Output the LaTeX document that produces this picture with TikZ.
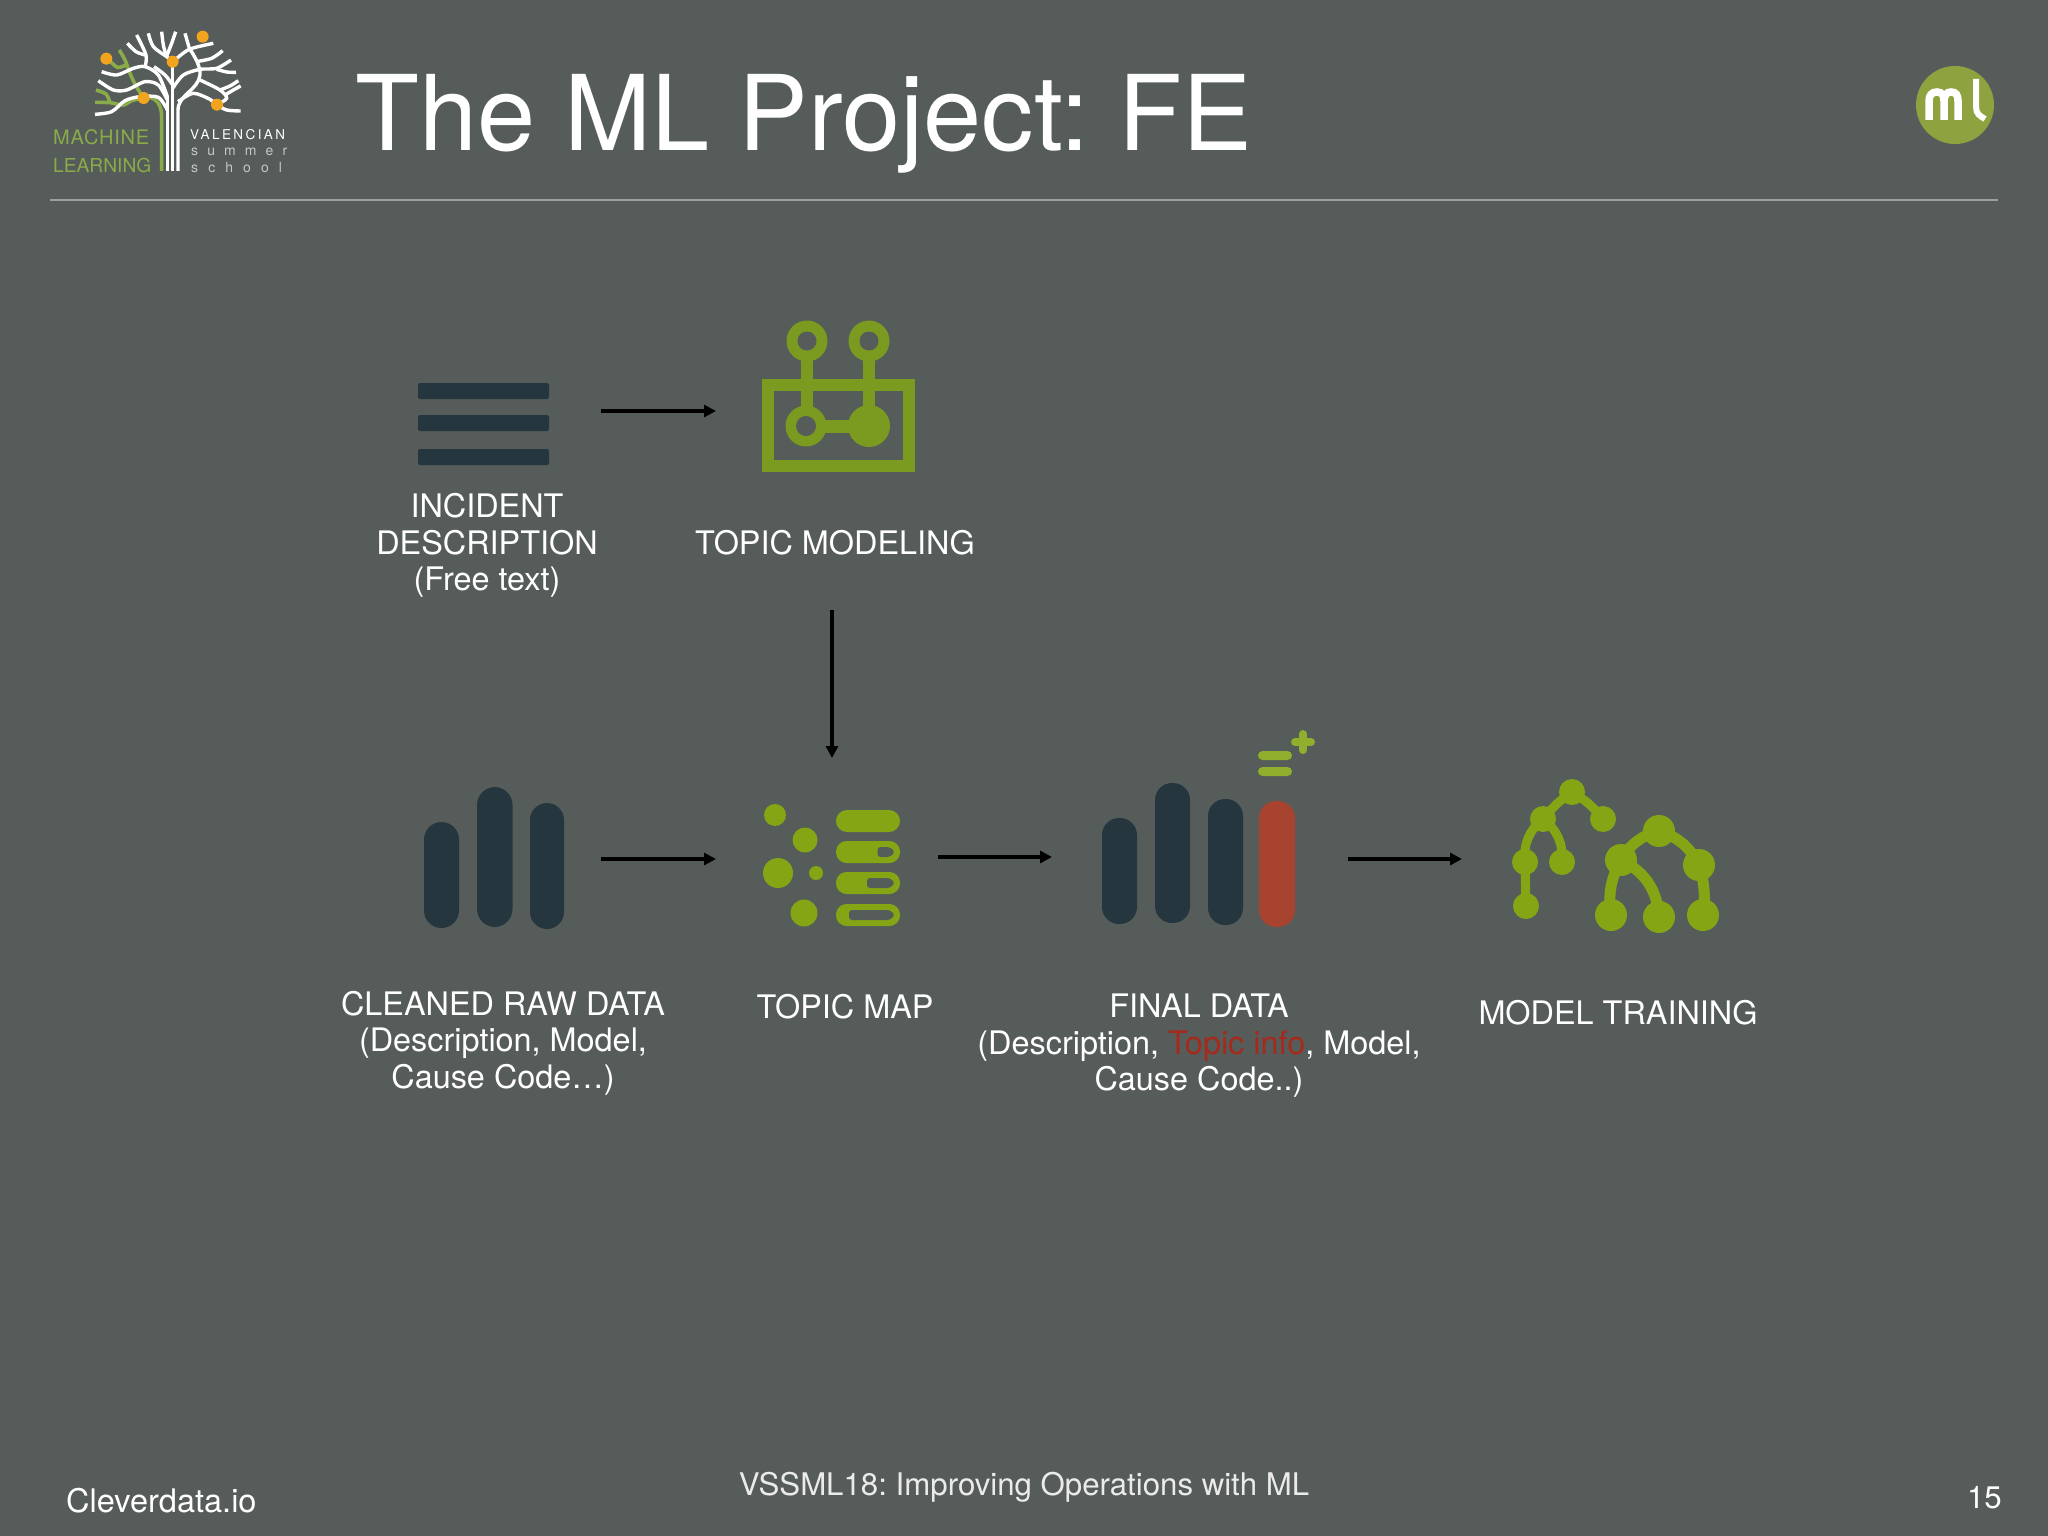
\documentclass[tikz,border=0pt]{standalone}
\usepackage{fontspec}
\setmainfont{TeX Gyre Heros}
\usetikzlibrary{arrows.meta}
\frenchspacing
\definecolor{bgc}{HTML}{565C5A}
\definecolor{navy}{HTML}{25363F}
\definecolor{olive}{HTML}{7B9A20}
\definecolor{lime}{HTML}{85A514}
\definecolor{redbar}{HTML}{A7432F}
\definecolor{redtxt}{HTML}{A52A1C}
\definecolor{logogreen}{HTML}{8AAB4A}
\definecolor{logoorange}{HTML}{F2A41F}
\definecolor{mlgreen}{HTML}{8EA340}
\tikzset{
  x=1pt,y=-1pt,
  lab/.style={inner sep=0pt,align=center,text=white,font=\fontsize{32.4}{36.5}\selectfont},
  foot/.style={inner sep=0pt,text=white!92!black,font=\fontsize{31.2}{36}\selectfont},
  flow/.style={line width=3.5pt,black,-{Triangle[length=12pt,width=12pt]}},
  treew/.style={draw=white,line width=3.4pt},
  treeg/.style={draw=logogreen,line width=3.6pt},
  logot/.style={inner sep=0pt,anchor=base west},
  edge1/.style={draw=lime,line width=9pt},
  edge2/.style={draw=lime,line width=11pt}
}
\begin{document}
\begin{tikzpicture}
\useasboundingbox (0,0) rectangle (2048,1536);
\fill[bgc] (0,0) rectangle (2048,1536);

% header
\node[inner sep=0pt,anchor=base west,text=white,font=\fontsize{104.5}{110}\selectfont] (title) at (355,150) {The ML Project: FE};
\coordinate (ruleL) at (50,200);
\coordinate (ruleR) at (1998,200);
\draw[color=white!42!bgc,line width=1.3pt] (ruleL) -- (ruleR);

% logo tree
\begin{scope}[shift={(30,10)},scale=1/3]
  \draw[treeg,line join=round] (395,483) -- (395,320) .. controls (395,280) and (375,258) .. (341,262);
  \draw[treeg] plot[smooth] coordinates {(341,264) (318,228) (300,190) (285,150) (268,120)};
  \draw[treeg] plot[smooth] coordinates {(288,165) (262,172) (235,148)};
  \draw[treeg] plot[smooth] coordinates {(341,264) (305,272) (280,285) (240,278) (195,277)};
  \draw[treeg] plot[smooth] coordinates {(198,240) (228,252) (240,277)};
  \draw[treew] plot[smooth] coordinates {(215,185) (260,195) (310,175) (345,170) (385,195) (412,260)};
  \draw[treew] (412,483) -- (412,258);
  \draw[treew] (428,483) -- (428,155);
  \draw[treew] (444,483) -- (444,300) .. controls (444,255) and (505,240) .. (510,195) .. controls (512,170) and (495,140) .. (478,115) -- (465,70);
  \draw[treew] plot[smooth] coordinates {(345,172) (348,135) (320,75)};
  \draw[treew] plot[smooth] coordinates {(345,135) (318,125) (292,100)};
  \draw[treew] plot[smooth] coordinates {(428,155) (410,140) (370,110) (355,70)};
  \draw[treew] plot[smooth] coordinates {(408,135) (400,105) (395,65)};
  \draw[treew] plot[smooth] coordinates {(410,138) (425,100) (437,65)};
  \draw[treew] plot[smooth] coordinates {(435,150) (478,118) (550,100)};
  \draw[treew] plot[smooth] coordinates {(498,155) (545,145) (578,122)};
  \draw[treew] plot[smooth] coordinates {(428,235) (460,195) (510,178) (560,175) (603,150)};
  \draw[treew] plot[smooth] coordinates {(560,178) (590,186) (618,187)};
  \draw[treew] plot[smooth] coordinates {(428,225) (405,195) (372,170)};
  \draw[treew] plot[smooth] coordinates {(412,270) (385,225) (345,215) (290,240) (250,240) (205,212)};
  \draw[treew] plot[smooth] coordinates {(412,300) (385,262) (330,260) (285,272) (245,305) (195,313)};
  \draw[treew] plot[smooth] coordinates {(444,275) (490,250) (540,268) (561,284) (590,300) (632,303)};
  \draw[treew] plot[smooth] coordinates {(510,210) (570,240) (590,265) (561,284)};
  \draw[treew] plot[smooth] coordinates {(570,240) (600,228) (625,212)};
  \draw[treew] plot[smooth] coordinates {(585,255) (610,240) (632,228)};
  \fill[logoorange] (229,146) circle (18);
  \fill[logoorange] (341,264) circle (18);
  \fill[logoorange] (428,155) circle (18);
  \fill[logoorange] (518,80) circle (18);
  \fill[logoorange] (561,284) circle (18);
\end{scope}
\node[logot,text=logogreen,font=\fontsize{20}{22}\selectfont\addfontfeature{LetterSpace=4}] (logoa) at (53,145) {MACHINE};
\node[logot,text=logogreen,font=\fontsize{19.2}{22}\selectfont] (logob) at (53,172) {LEARNING};
\node[logot,text=white,font=\fontsize{13.5}{15}\selectfont\addfontfeature{LetterSpace=18}] (logoc) at (190,140) {VALENCIAN};
\node[logot,text=white!65!bgc,font=\fontsize{14}{15}\selectfont\addfontfeature{LetterSpace=65}] (logod) at (191,156) {summer};
\node[logot,text=white!65!bgc,font=\fontsize{14}{15}\selectfont\addfontfeature{LetterSpace=72}] (logoe) at (191,172) {school};

% ml badge
\fill[mlgreen] (1955,105) circle (39);
\draw[white,line width=7.5pt] (1929,120) -- (1929,101) .. controls (1929,95) and (1932,92) .. (1937,92) .. controls (1942,92) and (1944,95) .. (1944,101) -- (1944,120);
\draw[white,line width=7.5pt] (1944,101) .. controls (1944,95) and (1947,92) .. (1951,92) .. controls (1956,92) and (1958,95) .. (1958,101) -- (1958,120);
\draw[white,line width=6pt] (1976,79) -- (1976,107) .. controls (1976,114) and (1980,116) .. (1985,119);

% lines icon
\foreach \yy in {383,415,449}
  \fill[navy,rounded corners=2pt] (418,\yy) rectangle (549,\yy+16);

% topic modeling icon
\draw[olive,line width=12pt] (768,385) rectangle (909,466);
\draw[olive,line width=12pt] (807,341) -- (807,426);
\draw[olive,line width=12pt] (869,341) -- (869,426);
\draw[olive,line width=13pt] (806,426) -- (869,426);
\fill[olive] (807,341) circle (20.5);
\fill[bgc] (807,341) circle (9.5);
\fill[olive] (869,341) circle (20.5);
\fill[bgc] (869,341) circle (9.5);
\fill[olive] (806,426) circle (20.5);
\fill[bgc] (806,426) circle (10);
\fill[olive] (869,426) circle (21);

% cleaned raw data bars
\fill[navy,rounded corners=17.5pt] (424,822) rectangle (459,928);
\fill[navy,rounded corners=18pt] (477,787) rectangle (512.5,927);
\fill[navy,rounded corners=17pt] (530,803) rectangle (564,929);

% topic map icon
\fill[lime] (775,815) circle (11);
\fill[lime] (805,840) circle (12.5);
\fill[lime] (778,873) circle (15);
\fill[lime] (816,873) circle (7);
\fill[lime] (804,913) circle (13.5);
\fill[lime,rounded corners=11pt] (836,810) rectangle (900,832);
\fill[lime,rounded corners=10.5pt] (836,841) rectangle (900,863);
\fill[lime,rounded corners=10.5pt] (836,872) rectangle (900,894);
\fill[lime,rounded corners=10.5pt] (836,904) rectangle (900,926);
\fill[bgc,rounded corners=3pt] (877.5,847) -- (890,847) -- (895,852) -- (890,857) -- (877.5,857) -- cycle;
\fill[bgc,rounded corners=3pt] (867,878) -- (890,878) -- (895,883) -- (890,888) -- (867,888) -- cycle;
\fill[bgc,rounded corners=3pt] (849,910) -- (890,910) -- (895,915) -- (890,920) -- (849,920) -- cycle;

% final data bars
\fill[navy,rounded corners=17pt] (1102,818) rectangle (1137,924);
\fill[navy,rounded corners=17pt] (1155,783) rectangle (1190,923);
\fill[navy,rounded corners=17pt] (1208,799) rectangle (1243,925);
\fill[redbar,rounded corners=17pt] (1259,801) rectangle (1295,927);
\fill[lime!90!white,rounded corners=4.5pt] (1258,751) rectangle (1292,760);
\fill[lime!90!white,rounded corners=4.5pt] (1258,767) rectangle (1292,776);
\draw[lime!90!white,line width=8pt,line cap=round] (1295,742) -- (1311,742);
\draw[lime!90!white,line width=8pt,line cap=round] (1303,734) -- (1303,750);

% model training icon
\coordinate (t1) at (1572,792);
\coordinate (t2) at (1543,819);
\coordinate (t3) at (1603,819);
\coordinate (t4) at (1525,862);
\coordinate (t5) at (1562,862);
\coordinate (t6) at (1526,906);
\coordinate (u1) at (1659,831);
\coordinate (u2) at (1621,860);
\coordinate (u3) at (1699,865);
\coordinate (u4) at (1611,915);
\coordinate (u5) at (1659,917);
\coordinate (u6) at (1703,915);
\draw[edge1] (t1) to[bend right=8] (t2);
\draw[edge1] (t1) to[bend left=10] (t3);
\draw[edge1] (t2) to[bend right=28] (t4);
\draw[edge1] (t2) to[bend left=28] (t5);
\draw[edge1] (t4) -- (t6);
\draw[edge2] (u1) to[bend right=22] (u2);
\draw[edge2] (u1) to[bend left=22] (u3);
\draw[edge2] (u2) to[bend right=18] (u4);
\draw[edge2] (u2) to[bend left=30] (u5);
\draw[edge2] (u3) to[bend left=12] (u6);
\foreach \c in {t1,t2,t3,t4,t5,t6} \fill[lime] (\c) circle (13);
\foreach \c in {u1,u2,u3,u4,u5,u6} \fill[lime] (\c) circle (16);

% labels
\node[lab] (incident) at (487,545.5) {INCIDENT\\DESCRIPTION\\(Free text)};
\node[lab] (topicmod) at (835,543) {TOPIC MODELING};
\node[lab] (cleaned) at (503,1043) {CLEANED RAW DATA\\(Description, Model,\\Cause Code…)};
\node[lab] (topicmap) at (845,1007) {TOPIC MAP};
\node[lab] (final) at (1199,1046) {FINAL DATA\\(Description, \textcolor{redtxt}{Topic info}, Model,\\Cause Code..)};
\node[lab] (training) at (1618,1013) {MODEL TRAINING};

% connectors
\coordinate (a1s) at (601,411); \coordinate (a1e) at (716,411);
\coordinate (a2s) at (832,610); \coordinate (a2e) at (832,758);
\coordinate (a3s) at (601,859); \coordinate (a3e) at (716,859);
\coordinate (a4s) at (938,857); \coordinate (a4e) at (1052,857);
\coordinate (a5s) at (1348,859); \coordinate (a5e) at (1462,859);
\draw[flow] (a1s) -- (a1e);
\draw[flow] (a2s) -- (a2e);
\draw[flow] (a3s) -- (a3e);
\draw[flow] (a4s) -- (a4e);
\draw[flow] (a5s) -- (a5e);

% footer
\node[foot,anchor=base west,text=white,font=\fontsize{32.5}{36}\selectfont] (clever) at (66,1512) {Cleverdata.io};
\node[foot,anchor=base] (course) at (1024,1495) {VSSML18: Improving Operations with ML};
\node[foot,anchor=base east,text=white] (page) at (2002,1508) {15};
\end{tikzpicture}
\end{document}
